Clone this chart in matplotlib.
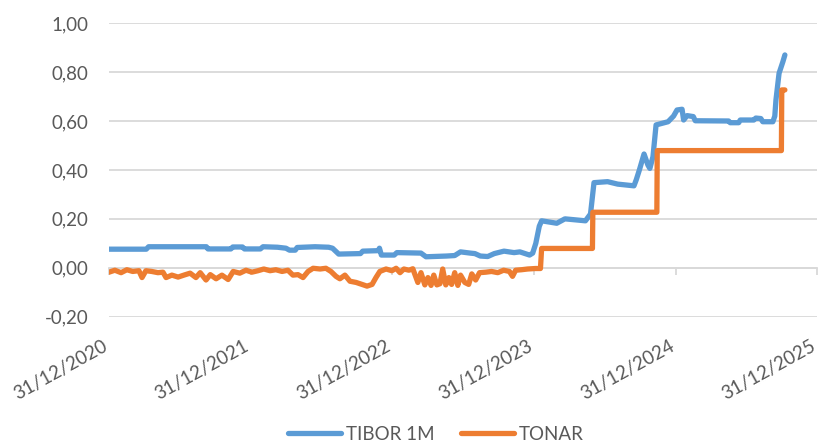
import matplotlib
matplotlib.use("Agg")
import matplotlib.pyplot as plt
import matplotlib.dates as mdates
import matplotlib.ticker as mticker
from matplotlib.transforms import ScaledTranslation
import pandas as pd

# TIBOR 1M
tibor_dates = ["2020-12-31", "2021-04-06", "2021-04-12", "2021-09-08", "2021-09-12", "2021-11-10",
               "2021-11-15", "2021-12-10", "2021-12-15", "2022-01-25", "2022-02-01", "2022-03-10",
               "2022-04-01", "2022-04-10", "2022-04-25", "2022-04-30", "2022-06-15", "2022-07-20",
               "2022-07-30", "2022-08-15", "2022-10-10", "2022-10-16", "2022-11-25", "2022-11-28",
               "2022-12-03", "2023-01-05", "2023-01-12", "2023-03-15", "2023-03-28", "2023-05-20",
               "2023-06-10", "2023-06-25", "2023-07-20", "2023-08-01", "2023-08-15", "2023-09-03",
               "2023-09-20", "2023-10-15", "2023-11-10", "2023-11-25", "2023-12-20", "2023-12-28",
               "2024-01-05", "2024-01-14", "2024-01-20", "2024-02-28", "2024-03-20", "2024-05-12",
               "2024-05-25", "2024-06-03", "2024-07-08", "2024-08-03", "2024-09-14", "2024-09-20",
               "2024-09-28", "2024-10-10", "2024-10-20", "2024-10-25", "2024-11-02", "2024-11-10",
               "2024-12-11", "2024-12-25", "2025-01-03", "2025-01-16", "2025-01-20", "2025-01-29",
               "2025-02-14", "2025-02-19", "2025-05-16", "2025-05-20", "2025-06-11", "2025-06-15",
               "2025-07-20", "2025-07-25", "2025-08-07", "2025-08-12", "2025-09-07", "2025-09-12",
               "2025-09-15", "2025-09-23", "2025-10-03", "2025-10-08"]
tibor_vals = [0.076, 0.076, 0.086, 0.086, 0.077, 0.077,
              0.085, 0.085, 0.077, 0.077, 0.086, 0.084,
              0.080, 0.072, 0.072, 0.083, 0.086, 0.084,
              0.080, 0.056, 0.058, 0.068, 0.070, 0.080,
              0.052, 0.052, 0.062, 0.060, 0.045, 0.048,
              0.050, 0.065, 0.060, 0.058, 0.048, 0.046,
              0.058, 0.068, 0.062, 0.065, 0.052, 0.060,
              0.100, 0.170, 0.192, 0.182, 0.200, 0.192,
              0.220, 0.348, 0.352, 0.342, 0.335, 0.360,
              0.400, 0.465, 0.420, 0.406, 0.454, 0.584,
              0.597, 0.620, 0.645, 0.648, 0.604, 0.622,
              0.618, 0.601, 0.600, 0.593, 0.593, 0.604,
              0.604, 0.612, 0.610, 0.597, 0.597, 0.620,
              0.686, 0.795, 0.843, 0.870]

# TONAR
tonar_dates = ["2020-12-31", "2021-01-15", "2021-01-31", "2021-02-15", "2021-03-02", "2021-03-18",
               "2021-03-26", "2021-04-05", "2021-04-20", "2021-05-06", "2021-05-19", "2021-05-27",
               "2021-06-11", "2021-06-27", "2021-07-12", "2021-07-28", "2021-08-12", "2021-08-23",
               "2021-09-07", "2021-09-18", "2021-10-03", "2021-10-18", "2021-11-03", "2021-11-16",
               "2021-12-03", "2021-12-19", "2022-01-03", "2022-01-19", "2022-02-03", "2022-02-19",
               "2022-03-06", "2022-03-22", "2022-04-06", "2022-04-19", "2022-05-02", "2022-05-15",
               "2022-05-28", "2022-06-10", "2022-06-28", "2022-07-13", "2022-07-26", "2022-08-08",
               "2022-08-18", "2022-08-31", "2022-09-13", "2022-09-29", "2022-10-14", "2022-10-27",
               "2022-11-09", "2022-11-19", "2022-11-29", "2022-12-15", "2022-12-30", "2023-01-10",
               "2023-01-20", "2023-01-30", "2023-02-12", "2023-02-22", "2023-03-07", "2023-03-15",
               "2023-03-25", "2023-04-02", "2023-04-10", "2023-04-17", "2023-04-25", "2023-05-03",
               "2023-05-10", "2023-05-18", "2023-05-26", "2023-06-02", "2023-06-10", "2023-06-18",
               "2023-06-25", "2023-07-06", "2023-07-16", "2023-07-24", "2023-08-03", "2023-08-13",
               "2023-08-29", "2023-09-13", "2023-09-29", "2023-10-14", "2023-10-29", "2023-11-06",
               "2023-11-14", "2023-11-29", "2023-12-15", "2024-01-04", "2024-01-17", "2024-01-20",
               "2024-05-30", "2024-05-31", "2024-11-12", "2024-11-13", "2025-09-29", "2025-09-30",
               "2025-10-08"]
tonar_vals = [-0.018, -0.010, -0.020, -0.008, -0.015, -0.012,
              -0.040, -0.012, -0.015, -0.020, -0.018, -0.040,
              -0.030, -0.038, -0.030, -0.022, -0.040, -0.020,
              -0.050, -0.028, -0.045, -0.030, -0.048, -0.015,
              -0.022, -0.010, -0.018, -0.012, -0.005, -0.012,
              -0.008, -0.015, -0.010, -0.030, -0.028, -0.040,
              -0.015, -0.002, -0.005, -0.002, -0.015, -0.035,
              -0.045, -0.030, -0.055, -0.060, -0.068, -0.075,
              -0.068, -0.040, -0.015, -0.005, -0.012, -0.002,
              -0.020, -0.005, -0.010, -0.004, -0.060, -0.020,
              -0.070, -0.040, -0.072, -0.030, -0.070, -0.065,
              -0.005, -0.070, -0.040, -0.068, -0.020, -0.072,
              -0.030, -0.060, -0.068, -0.025, -0.050, -0.020,
              -0.018, -0.015, -0.020, -0.010, -0.015, -0.035,
              -0.010, -0.008, -0.005, -0.003, -0.003, 0.079,
              0.079, 0.227, 0.227, 0.479, 0.479, 0.727,
              0.727]

year_ticks = ["2020-12-31", "2021-12-31", "2022-12-31", "2023-12-31", "2024-12-31", "2025-12-31"]
y_ticks = [-0.2, 0.0, 0.2, 0.4, 0.6, 0.8, 1.0]

plt.rcParams['font.family'] = ['Lato', 'DejaVu Sans']
text_col = '#595959'
grid_col = '#D9D9D9'

fig = plt.figure(figsize=(8.21, 4.45), dpi=100)
ax = fig.add_axes([0.1328, 0.2883, 0.8629, 0.6597])

ax.plot(pd.to_datetime(tibor_dates), tibor_vals, color='#5B9BD5', lw=3.8, label='TIBOR 1M',
        solid_joinstyle='round', solid_capstyle='round', zorder=3)
ax.plot(pd.to_datetime(tonar_dates), tonar_vals, color='#ED7D31', lw=3.8, label='TONAR',
        solid_joinstyle='round', solid_capstyle='round', zorder=3)

ticks = pd.to_datetime(year_ticks)
ax.set_xlim(ticks[0], ticks[-1])
ax.set_ylim(-0.2, 1.0)
ax.set_yticks(y_ticks)
ax.yaxis.set_major_formatter(mticker.FuncFormatter(lambda v, p: f"{v:.2f}".replace('.', ',').replace('-0,00', '0,00')))
ax.grid(axis='y', color=grid_col, lw=1.3)
ax.set_axisbelow(True)

for s in ('top', 'right', 'left'):
    ax.spines[s].set_visible(False)
ax.spines['bottom'].set_position(('data', 0))
ax.spines['bottom'].set_color(grid_col)
ax.spines['bottom'].set_linewidth(1.3)
ax.set_xticks(ticks)
ax.tick_params(axis='x', direction='out', length=5, width=1.3, color=grid_col, labelbottom=False)
ax.tick_params(axis='y', length=0, pad=15, labelsize=13.5, labelcolor=text_col)

sec = ax.secondary_xaxis(0)
sec.set_xticks(ticks)
sec.xaxis.set_major_formatter(mdates.DateFormatter('%d/%m/%Y'))
sec.spines['bottom'].set_visible(False)
sec.tick_params(length=0, pad=15, labelsize=13.5, labelcolor=text_col)
shift = ScaledTranslation(-5 / 72, 0, fig.dpi_scale_trans)
for lab in sec.get_xticklabels():
    lab.set_rotation(29)
    lab.set_ha('right')
    lab.set_va('top')
    lab.set_rotation_mode('anchor')
    lab.set_transform(lab.get_transform() + shift)

fig.legend(loc='center', bbox_to_anchor=(436 / 821, 0.024), ncol=2, frameon=False,
           fontsize=13.5, labelcolor=text_col, handlelength=2.8, handletextpad=0.3, columnspacing=1.4)

fig.savefig('out.png', dpi=100)
